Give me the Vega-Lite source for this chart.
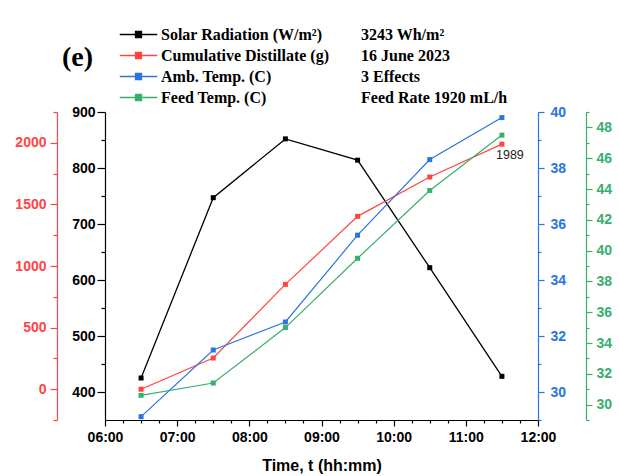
{
  "$schema": "https://vega.github.io/schema/vega-lite/v6.json",
  "width": 433,
  "height": 308,
  "autosize": {"type": "none"},
  "padding": {"left": 105, "top": 112, "right": 81, "bottom": 56},
  "background": "white",
  "config": {
    "view": {"stroke": null},
    "axis": {"grid": false, "labelFont": "Liberation Sans", "labelFontSize": 14, "labelFontWeight": "bold", "titleFont": "Liberation Sans", "titleFontSize": 16, "titleFontWeight": "bold", "titleColor": "#000", "domainWidth": 1.2, "tickWidth": 1.2}
  },
  "title": {
    "text": ["3243 Wh/m²", "16 June 2023", "3 Effects", "Feed Rate 1920 mL/h"],
    "anchor": "start",
    "frame": "group",
    "orient": "top",
    "dx": 256,
    "dy": 89,
    "offset": 9,
    "font": "Liberation Serif",
    "fontSize": 16,
    "fontWeight": "bold",
    "color": "#000",
    "lineHeight": 20.9
  },
  "data": {
    "values": [
      {"time": "2023-06-16T06:30:00", "solar": 425, "distillate": 0, "amb": 29.12, "feed": 30.6},
      {"time": "2023-06-16T07:30:00", "solar": 747, "distillate": 253, "amb": 31.5, "feed": 31.4},
      {"time": "2023-06-16T08:30:00", "solar": 852, "distillate": 851, "amb": 32.5, "feed": 35.0},
      {"time": "2023-06-16T09:30:00", "solar": 814, "distillate": 1403, "amb": 35.6, "feed": 39.5},
      {"time": "2023-06-16T10:30:00", "solar": 622, "distillate": 1722, "amb": 38.3, "feed": 43.9},
      {"time": "2023-06-16T11:30:00", "solar": 428, "distillate": 1989, "amb": 39.8, "feed": 47.5}
    ]
  },
  "encoding": {
    "x": {
      "field": "time",
      "type": "temporal",
      "scale": {"domain": [{"year": 2023, "month": 6, "date": 16, "hours": 6}, {"year": 2023, "month": 6, "date": 16, "hours": 12}]},
      "axis": {
        "title": "Time, t (hh:mm)",
        "values": [
          {"year": 2023, "month": 6, "date": 16, "hours": 6, "minutes": 0},
          {"year": 2023, "month": 6, "date": 16, "hours": 6, "minutes": 15},
          {"year": 2023, "month": 6, "date": 16, "hours": 6, "minutes": 30},
          {"year": 2023, "month": 6, "date": 16, "hours": 6, "minutes": 45},
          {"year": 2023, "month": 6, "date": 16, "hours": 7, "minutes": 0},
          {"year": 2023, "month": 6, "date": 16, "hours": 7, "minutes": 15},
          {"year": 2023, "month": 6, "date": 16, "hours": 7, "minutes": 30},
          {"year": 2023, "month": 6, "date": 16, "hours": 7, "minutes": 45},
          {"year": 2023, "month": 6, "date": 16, "hours": 8, "minutes": 0},
          {"year": 2023, "month": 6, "date": 16, "hours": 8, "minutes": 15},
          {"year": 2023, "month": 6, "date": 16, "hours": 8, "minutes": 30},
          {"year": 2023, "month": 6, "date": 16, "hours": 8, "minutes": 45},
          {"year": 2023, "month": 6, "date": 16, "hours": 9, "minutes": 0},
          {"year": 2023, "month": 6, "date": 16, "hours": 9, "minutes": 15},
          {"year": 2023, "month": 6, "date": 16, "hours": 9, "minutes": 30},
          {"year": 2023, "month": 6, "date": 16, "hours": 9, "minutes": 45},
          {"year": 2023, "month": 6, "date": 16, "hours": 10, "minutes": 0},
          {"year": 2023, "month": 6, "date": 16, "hours": 10, "minutes": 15},
          {"year": 2023, "month": 6, "date": 16, "hours": 10, "minutes": 30},
          {"year": 2023, "month": 6, "date": 16, "hours": 10, "minutes": 45},
          {"year": 2023, "month": 6, "date": 16, "hours": 11, "minutes": 0},
          {"year": 2023, "month": 6, "date": 16, "hours": 11, "minutes": 15},
          {"year": 2023, "month": 6, "date": 16, "hours": 11, "minutes": 30},
          {"year": 2023, "month": 6, "date": 16, "hours": 11, "minutes": 45},
          {"year": 2023, "month": 6, "date": 16, "hours": 12, "minutes": 0}
        ],
        "labelExpr": "timeFormat(datum.value, '%M') === '00' ? timeFormat(datum.value, '%H:%M') : ''",
        "tickSize": 6,
        "tickDash": {"condition": {"test": "timeFormat(datum.value, '%M') === '00'", "value": [10, 0]}, "value": [3, 10]},
        "labelFlush": false,
        "labelPadding": 4,
        "labelColor": "#000",
        "domainColor": "#000",
        "tickColor": "#000",
        "titlePadding": 13
      }
    }
  },
  "layer": [
    {
      "mark": {"type": "line", "strokeWidth": 1.3, "point": {"shape": "square", "size": 25, "filled": true, "opacity": 1}},
      "encoding": {
        "y": {
          "field": "solar", "type": "quantitative",
          "scale": {"domain": [350, 900], "nice": false, "zero": false},
          "axis": {
            "orient": "left", "offset": 0, "title": null,
            "values": [400, 450, 500, 550, 600, 650, 700, 750, 800, 850, 900],
            "labelExpr": "datum.value % 100 === 0 ? format(datum.value, 'd') : ''",
            "tickSize": 8,
            "tickDash": {"condition": {"test": "datum.value % 100 === 0", "value": [10, 0]}, "value": [4, 10]},
            "labelPadding": 2, "labelColor": "#000", "domainColor": "#000", "tickColor": "#000"
          }
        },
        "color": {
          "datum": "Solar Radiation (W/m²)",
          "scale": {
            "domain": ["Solar Radiation (W/m²)", "Cumulative Distillate (g)", "Amb. Temp. (C)", "Feed Temp. (C)"],
            "range": ["#000000", "#ff4444", "#2a74e2", "#36b06b"]
          },
          "legend": {
            "orient": "none",
            "legendX": -43,
            "legendY": -86,
            "title": "(e)",
            "titleOrient": "left",
            "titleAnchor": "middle",
            "titleBaseline": "alphabetic",
            "titleFont": "Liberation Serif",
            "titleFontSize": 28,
            "titleFontWeight": "bold",
            "titleColor": "#000",
            "titlePadding": 36,
            "labelFont": "Liberation Serif",
            "labelFontSize": 16,
            "labelFontWeight": "bold",
            "labelColor": "#000",
            "labelLimit": 400,
            "labelOffset": 14,
            "symbolType": "M-2.5,0H2.5M-0.4,-0.4H0.4V0.4H-0.4Z",
            "symbolSize": 225,
            "symbolStrokeWidth": 1.3,
            "rowPadding": 4,
            "padding": 0
          }
        }
      }
    },
    {
      "mark": {"type": "line", "strokeWidth": 1.2, "point": {"shape": "square", "size": 25, "filled": true, "opacity": 1}},
      "encoding": {
        "y": {
          "field": "distillate", "type": "quantitative",
          "scale": {"domain": [-250, 2250], "nice": false, "zero": false},
          "axis": {
            "orient": "left", "offset": 48, "title": null,
            "values": [-250, 0, 250, 500, 750, 1000, 1250, 1500, 1750, 2000, 2250],
            "labelExpr": "datum.value % 500 === 0 ? format(datum.value, 'd') : ''",
            "tickSize": 7,
            "tickDash": {"condition": {"test": "datum.value % 500 === 0", "value": [10, 0]}, "value": [4, 10]},
            "labelPadding": 4, "labelColor": "#ff4444", "domainColor": "#ff4444", "tickColor": "#ff4444"
          }
        },
        "color": {"datum": "Cumulative Distillate (g)"}
      }
    },
    {
      "mark": {"type": "line", "strokeWidth": 1.2, "point": {"shape": "square", "size": 25, "filled": true, "opacity": 1}},
      "encoding": {
        "y": {
          "field": "amb", "type": "quantitative",
          "scale": {"domain": [29, 40], "nice": false, "zero": false},
          "axis": {
            "orient": "right", "offset": 0, "title": null,
            "values": [29, 30, 31, 32, 33, 34, 35, 36, 37, 38, 39, 40],
            "labelExpr": "datum.value % 2 === 0 ? format(datum.value, 'd') : ''",
            "tickSize": 6,
            "tickDash": {"condition": {"test": "datum.value % 2 === 0", "value": [10, 0]}, "value": [3, 10]},
            "labelPadding": 6, "labelColor": "#2a74e2", "domainColor": "#2a74e2", "tickColor": "#2a74e2"
          }
        },
        "color": {"datum": "Amb. Temp. (C)"}
      }
    },
    {
      "mark": {"type": "line", "strokeWidth": 1.2, "point": {"shape": "square", "size": 25, "filled": true, "opacity": 1}},
      "encoding": {
        "y": {
          "field": "feed", "type": "quantitative",
          "scale": {"domain": [29, 49], "nice": false, "zero": false},
          "axis": {
            "orient": "right", "offset": 48, "title": null,
            "values": [29, 30, 31, 32, 33, 34, 35, 36, 37, 38, 39, 40, 41, 42, 43, 44, 45, 46, 47, 48, 49],
            "labelExpr": "datum.value % 2 === 0 ? format(datum.value, 'd') : ''",
            "tickSize": 6,
            "tickDash": {"condition": {"test": "datum.value % 2 === 0", "value": [10, 0]}, "value": [3, 10]},
            "labelPadding": 4, "labelColor": "#36b06b", "domainColor": "#36b06b", "tickColor": "#36b06b"
          }
        },
        "color": {"datum": "Feed Temp. (C)"}
      }
    },
    {
      "transform": [{"filter": "datum.distillate === 1989"}],
      "mark": {"type": "text", "dx": 8, "dy": 11, "align": "center", "baseline": "middle", "font": "Liberation Sans", "fontSize": 12.5, "color": "#222"},
      "encoding": {
        "y": {"field": "distillate", "type": "quantitative", "scale": {"domain": [-250, 2250], "nice": false, "zero": false}, "axis": null},
        "text": {"field": "distillate", "type": "quantitative", "format": "d"}
      }
    }
  ],
  "resolve": {"scale": {"y": "independent"}}
}
